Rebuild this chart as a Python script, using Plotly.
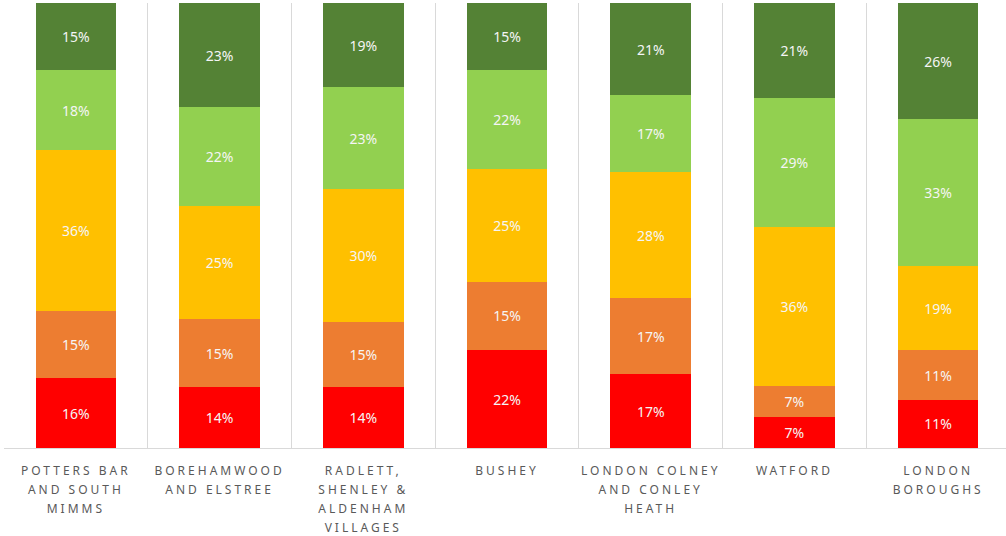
import plotly.graph_objects as go

categories = [
    "POTTERS BAR<br>AND SOUTH<br>MIMMS",
    "BOREHAMWOOD<br>AND ELSTREE",
    "RADLETT,<br>SHENLEY &amp;<br>ALDENHAM<br>VILLAGES",
    "BUSHEY",
    "LONDON COLNEY<br>AND CONLEY<br>HEATH",
    "WATFORD",
    "LONDON<br>BOROUGHS",
]
red_vals = [15.7, 13.6, 13.6, 22.0, 16.6, 7.0, 10.8]
orange_vals = [15.1, 15.4, 14.8, 15.4, 17.1, 6.9, 11.2]
yellow_vals = [36.2, 25.4, 29.7, 25.3, 28.3, 35.8, 18.8]
lightgreen_vals = [17.9, 22.2, 23.0, 22.2, 17.3, 29.0, 33.1]
darkgreen_vals = [15.1, 23.4, 18.9, 15.1, 20.7, 21.3, 26.1]

series = [
    ("Red", red_vals, "#FF0000"),
    ("Orange", orange_vals, "#ED7D31"),
    ("Yellow", yellow_vals, "#FFC000"),
    ("Light green", lightgreen_vals, "#92D050"),
    ("Dark green", darkgreen_vals, "#548235"),
]

fig = go.Figure()
for name, vals, color in series:
    fig.add_trace(go.Bar(
        x=categories, y=vals, name=name,
        marker=dict(color=color, line=dict(width=0)),
        width=0.56,
        text=[f"{round(v)}%" for v in vals],
        textposition="inside", insidetextanchor="middle",
        textfont=dict(family="Noto Sans", size=14, color="#F5F5F5"),
        textangle=0,
        hoverinfo="skip",
    ))

fig.update_layout(
    barmode="stack",
    width=1010, height=536,
    margin=dict(l=4, r=0, t=3, b=88),
    paper_bgcolor="white", plot_bgcolor="white",
    showlegend=False,
    uniformtext=dict(mode=False),
    xaxis=dict(
        type="category", range=[-0.5, 6.5], automargin=False,
        tickson="boundaries", showgrid=True, gridcolor="#D9D9D9", gridwidth=1,
        showline=True, linecolor="#D9D9D9", linewidth=1,
        ticks="", ticklabelstandoff=12,
        tickfont=dict(family="Noto Sans", size=12, color="#595959"),
        fixedrange=True,
    ),
    yaxis=dict(range=[0, 100], visible=False, showgrid=False, zeroline=False,
               automargin=False, fixedrange=True),
)

post_js = """
document.body.style.margin = '0';
document.body.style.overflow = 'hidden';
function spaceTicks(){
  var texts = document.querySelectorAll('.xtick text');
  texts.forEach(function(t){
    t.setAttribute('letter-spacing', '3px');
    var lines = t.querySelectorAll('tspan.line');
    lines.forEach(function(s, i){ s.setAttribute('dy', (i * 1.56) + 'em'); });
  });
}
spaceTicks();
var gd = document.getElementsByClassName('plotly-graph-div')[0];
if (gd && gd.on) { gd.on('plotly_afterplot', spaceTicks); }
"""

fig.write_html("out.html", post_script=post_js, config={"displayModeBar": False})
